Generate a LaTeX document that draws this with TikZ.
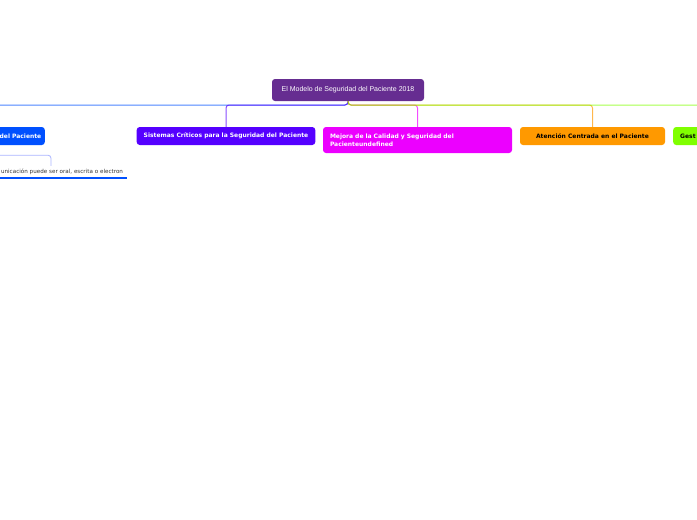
\documentclass[tikz,border=0pt]{standalone}
\usepackage{fontspec}
\setsansfont{DejaVu Sans}
\newfontfamily\rootfont{Liberation Sans}
\definecolor{rootpurple}{RGB}{102,45,145}
\definecolor{topblue}{RGB}{0,80,255}
\definecolor{topviolet}{RGB}{85,0,255}
\definecolor{topmagenta}{RGB}{236,0,255}
\definecolor{toporange}{RGB}{255,153,0}
\definecolor{topgreen}{RGB}{128,255,0}
\definecolor{childline}{RGB}{170,180,255}

\begin{document}
\begin{tikzpicture}[x=1pt, y=-1pt,
    topic/.style={rounded corners=3pt, inner xsep=7pt, inner ysep=0pt,
      minimum height=18pt, font=\sffamily\bfseries\fontsize{6}{8}\selectfont},
    link/.style={line width=1pt, opacity=0.7, rounded corners=3pt}]
    \useasboundingbox (0,0) rectangle (697,520);
    \clip (0,0) rectangle (697,520);

    % central topic
    \node[fill=rootpurple, rounded corners=3pt, minimum width=152pt, minimum height=22pt,
      text=white, font=\rootfont\fontsize{7}{8}\selectfont] (root) at (348,90)
      {El Modelo de Seguridad del Paciente 2018};
    \coordinate (hub) at (348,105);

    % main topics
    \node[topic, fill=topblue, text=white, anchor=east, inner xsep=3.5pt,
      text width=98pt, align=right] (del) at (45,136) {del Paciente};
    \node[topic, fill=topviolet, text=white, minimum width=178pt] (crit) at (226,136)
      {Sistemas Críticos para la Seguridad del Paciente};
    \node[topic, fill=topmagenta, text=white, minimum height=26pt, text width=175pt,
      align=left] (mejora) at (417.5,140)
      {Mejora de la Calidad y Seguridad del\\Pacienteundefined};
    \node[topic, fill=toporange, minimum width=145pt] (atencion) at (592.5,136)
      {Atención Centrada en el Paciente};
    \node[topic, fill=topgreen, anchor=west, text width=60pt, align=left]
      (gest) at (673,136) {Gest};

    % sub topic
    \node[font=\sffamily\fontsize{5.6}{6}\selectfont, text=black!80, text width=144pt,
      align=right, inner xsep=4pt, inner ysep=0pt, minimum height=12pt]
      (oral) at (51,172) {unicación puede ser oral, escrita o electron};
    \draw[line width=2pt, topblue] (oral.south west) -- (oral.south east);

    % connectors
    \draw[link, topblue] (root.south) -- (hub) -| (del.north);
    \draw[link, topviolet] (root.south) -- (hub) -| (crit.north);
    \draw[link, topmagenta] (root.south) -- (hub) -| (mejora.north);
    \draw[link, toporange] (root.south) -- (hub) -| (atencion.north);
    \draw[link, topgreen] (root.south) -- (hub) -| (gest.north);
    \draw[line width=0.8pt, childline, rounded corners=3pt] (del.south) -- ++(0,10) -| (oral.north);
\end{tikzpicture}
\end{document}
